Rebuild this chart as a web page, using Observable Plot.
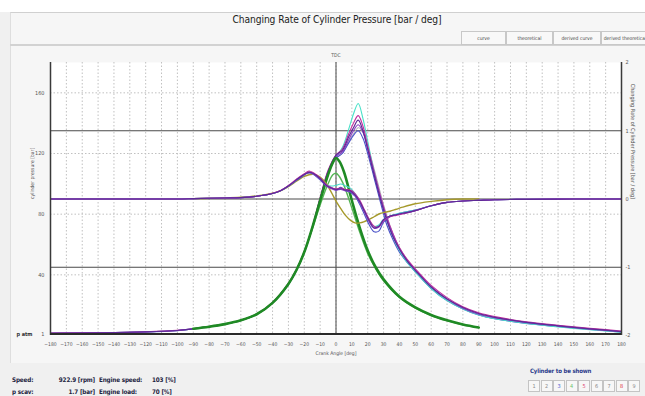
<!DOCTYPE html>
<html><head><meta charset="utf-8">
<script src="https://cdn.jsdelivr.net/npm/d3@7"></script>
<script src="https://cdn.jsdelivr.net/npm/@observablehq/plot@0.6"></script>
<style>
body{margin:0;width:645px;height:396px;overflow:hidden;background:#f0f0f0;position:relative;font-family:"Liberation Sans Narrow","DejaVu Sans Condensed","Liberation Sans",sans-serif;}
.abs{position:absolute;}
#topstrip{left:0;top:0;width:645px;height:12px;background:#fff;}
#panel{left:10px;top:12px;width:635px;height:350px;background:#f6f6f6;border-top:1px solid #d0d0d0;border-left:1px solid #dedede;}
#title{left:137px;top:14px;width:400px;text-align:center;font-size:10.2px;color:#222;white-space:nowrap;letter-spacing:-0.1px;}
.tab{top:31px;height:12px;border:1px solid #c8c8c8;background:#f8f8f8;font-size:5px;color:#444;text-align:center;line-height:12px;white-space:nowrap;overflow:hidden;}
#band{left:10px;top:44px;width:635px;height:2px;background:#d2d2d2;}
#chart{left:0;top:0;}
.st{font-size:6.3px;font-weight:bold;color:#1c2340;white-space:nowrap;letter-spacing:-0.15px;}
.box{top:380px;width:10px;height:10px;border:1px solid #c4c4c4;background:#f7f7f7;font-size:5.5px;text-align:center;line-height:10px;}
</style></head>
<body>
<div class="abs" id="topstrip"></div>
<div class="abs" id="panel"></div>
<div class="abs" id="title">Changing Rate of Cylinder Pressure [bar / deg]</div>
<div class="abs" id="band"></div>
<div class="abs" id="chart"></div>
<div id="extras"></div>
<script>
// ---- data ----
const tabs = ["curve", "theoretical", "derived curve", "derived theoretical"];
const xTicks = [-180,-170,-160,-150,-140,-130,-120,-110,-100,-90,-80,-70,-60,-50,-40,-30,-20,-10,0,10,20,30,40,50,60,70,80,90,100,110,120,130,140,150,160,170,180];
const leftTicks = [1, 40, 80, 120, 160];
const rightTicks = [-2, -1, 0, 1, 2];

// cylinder pressure [bar] (measured, per cylinder)
const pAngle = [-180,-150,-120,-100,-90,-80,-70,-60,-50,-40,-30,-25,-20,-15,-10,-5,0,4,8,11,14,17,20,24,28,32,36,40,45,50,60,70,80,90,100,120,140,160,180];
const pCyl1 = [1.5,1.8,2.4,3.3,4.4,5.8,7.5,10,14,21.5,34,43,55,71,90,108,119,122,131,137,142,135,123,106,90,76,65,57,49,43,32,24,18.5,14.5,12,8.7,6.4,4.4,2.6];
const pCyl2 = [1.6,1.9,2.5,3.4,4.5,5.9,7.6,10.1,14.2,21.8,34.5,43.5,55.5,71.5,91,109,119,123,133,140,145,138,125,108,92,78,67,58,50,44,33,25,19,15,12.5,9.1,6.8,4.8,3];
const pCyl3 = [1.4,1.7,2.3,3.2,4.3,5.7,7.4,9.9,13.8,21.3,33.5,42.5,54.5,70.5,89,107,117,120,127,132,135,130,120,104,88,73,63,55,48,42,31,23,17.5,13.5,11,8,5.9,4,2.2];
const pCyl4 = [1.5,1.8,2.4,3.3,4.4,5.8,7.5,10,14,21.5,34,43,55,71,90,108,118,124,136,146,153,143,128,108,91,76,65,56,48,42,31,23,17.5,13.5,11,8,5.7,3.8,2.1];
const pCyl5 = [1.5,1.8,2.4,3.3,4.4,5.8,7.5,10,14,21.5,34,43,55,71,90,108,118,121,129,135,139,134,123,107,91,77,66,57,49,43,32,24,18,14,11.7,8.5,6.2,4.2,2.5];
const pCyl6 = [1.5,1.8,2.4,3.3,4.4,5.8,7.5,10,14,21.5,34,43,55,71,90,108,117,120,128,133,137,134,125,110,94,79,67,58,50,44,32,24,18.5,14.5,12,8.7,6.4,4.4,2.6];

// theoretical pressure [bar]
const tAngle = [-90,-80,-70,-60,-50,-40,-30,-25,-20,-15,-10,-5,-2,0,2,5,10,15,20,25,30,40,50,60,70,80,90];
const tPress = [4.5,5.8,7.5,10,14,21.5,34,43,55,71,89,106,114,117,115,108,89,71,56,45,37,25.5,18.5,13.5,10,7.3,5.3];
const tPress2 = [4.5,5.8,7.5,10,14,21.5,34,43,55,70,86,100,106,107,105,99,84,68,54,44,36,25,18,13.2,9.8,7.1,5.2];

// derived curve [bar/deg] (measured, per cylinder)
const dAngle = [-180,-140,-100,-90,-80,-70,-60,-50,-40,-35,-30,-25,-20,-17,-14,-10,-6,-3,0,3,6,9,12,15,18,21,24,27,30,34,38,42,50,60,70,80,90,100,120,150,180];
const dCyl1 = [0,0,0,0.005,0.01,0.015,0.02,0.04,0.08,0.12,0.19,0.28,0.36,0.39,0.37,0.3,0.2,0.16,0.14,0.15,0.13,0.12,0.06,-0.04,-0.18,-0.32,-0.42,-0.4,-0.3,-0.25,-0.23,-0.21,-0.17,-0.1,-0.05,-0.03,-0.02,-0.01,-0.005,0,0];
const dCyl2 = [0,0,0,0.005,0.01,0.015,0.02,0.04,0.085,0.125,0.2,0.29,0.37,0.41,0.38,0.31,0.21,0.17,0.15,0.16,0.14,0.13,0.08,-0.02,-0.16,-0.3,-0.4,-0.41,-0.32,-0.26,-0.24,-0.22,-0.17,-0.1,-0.05,-0.03,-0.02,-0.01,-0.005,0,0];
const dCyl3 = [0,0,0,0.005,0.01,0.015,0.02,0.04,0.08,0.12,0.19,0.27,0.35,0.4,0.36,0.28,0.19,0.17,0.13,0.17,0.12,0.1,0.04,-0.08,-0.23,-0.38,-0.48,-0.47,-0.34,-0.26,-0.23,-0.2,-0.16,-0.1,-0.05,-0.03,-0.02,-0.01,-0.005,0,0];
const dCyl4 = [0,0,0,0.005,0.01,0.015,0.02,0.04,0.08,0.12,0.19,0.28,0.36,0.38,0.36,0.3,0.21,0.19,0.2,0.22,0.19,0.16,0.08,-0.03,-0.17,-0.31,-0.4,-0.38,-0.3,-0.25,-0.22,-0.2,-0.16,-0.1,-0.05,-0.03,-0.02,-0.01,-0.005,0,0];
const dCyl5 = [0,0,0,0.005,0.01,0.015,0.02,0.04,0.08,0.12,0.19,0.28,0.36,0.38,0.36,0.29,0.19,0.15,0.13,0.14,0.12,0.11,0.05,-0.05,-0.2,-0.34,-0.43,-0.41,-0.31,-0.25,-0.23,-0.21,-0.17,-0.1,-0.05,-0.03,-0.02,-0.01,-0.005,0,0];

// derived theoretical [bar/deg]
const dtAngle = [-90,-80,-70,-60,-50,-40,-35,-30,-25,-20,-17,-14,-10,-6,-3,0,3,6,9,12,15,18,21,24,27,30,34,38,42,50,60,70,80,90];
const dtRate = [0.005,0.01,0.015,0.025,0.045,0.085,0.12,0.18,0.26,0.33,0.355,0.36,0.32,0.22,0.1,-0.03,-0.14,-0.24,-0.31,-0.35,-0.35,-0.33,-0.3,-0.26,-0.22,-0.2,-0.18,-0.15,-0.12,-0.07,-0.035,-0.01,0,0];

const cylNumbers = ["1","2","3","4","5","6","7","8","9"];
const cylNumColors = ["#8a8a8a","#8a8a8a","#3b4fd0","#6cc46c","#e0406e","#8a8a8a","#8a8a8a","#e0303c","#8a8a8a"];
const stats = [["Speed:", "922.9 [rpm]", "Engine speed:", "103 [%]"], ["p scav:", "1.7 [bar]", "Engine load:", "70 [%]"]];

// ---- build ----
const zip = (xs, ys) => xs.map((a, i) => ({a, v: ys[i]}));
const toBar = r => 90 + 45 * r; // right axis (bar/deg) -> left axis (bar)

const pSeries = [
  [pCyl6, "#a9a9b4", 1],
  [pCyl3, "#4a52c8", 1.1],
  [pCyl4, "#48e0c8", 1.1],
  [pCyl2, "#c22c9e", 1.1],
  [pCyl5, "#8b3fc4", 1.1],
  [pCyl1, "#5e2a96", 1.2]
];
const dSeries = [
  [dCyl3, "#4a52c8"],
  [dCyl4, "#48d8c8"],
  [dCyl2, "#c22c9e"],
  [dCyl5, "#8b3fc4"],
  [dCyl1, "#5e2a96"]
];
const fnt = "'Liberation Sans Narrow','DejaVu Sans Condensed','Liberation Sans',sans-serif";

const chart = Plot.plot({
  width: 645, height: 396,
  marginLeft: 50, marginRight: 24, marginTop: 62, marginBottom: 61,
  style: {background: "transparent", fontFamily: fnt, fontSize: "5.5px", color: "#555"},
  x: {domain: [-180, 180]},
  y: {domain: [0, 180]},
  marks: [
    Plot.frame({fill: "white", stroke: null}),
    Plot.gridX(xTicks, {stroke: "#c0c0c0", strokeOpacity: 1, strokeDasharray: "1.5,2"}),
    Plot.gridY([40, 80, 120, 160], {stroke: "#c0c0c0", strokeOpacity: 1, strokeDasharray: "1.5,2"}),
    Plot.ruleY(rightTicks.filter(d => Math.abs(d) === 1 || d === 0).map(toBar), {stroke: "#4a4a4a", strokeWidth: 1}),
    Plot.ruleX([0], {stroke: "#4a4a4a", strokeWidth: 1}),
    ...pSeries.map(([vals, c, w]) => Plot.line(zip(pAngle, vals), {x: "a", y: "v", stroke: c, strokeWidth: w, curve: "catmull-rom"})),
    Plot.line(zip(tAngle, tPress2), {x: "a", y: "v", stroke: "#55b455", strokeWidth: 1.4, curve: "catmull-rom"}),
    Plot.line(zip(tAngle, tPress), {x: "a", y: "v", stroke: "#1f8a24", strokeWidth: 2.6, curve: "catmull-rom"}),
    Plot.line(zip(dtAngle, dtRate), {x: "a", y: d => toBar(d.v), stroke: "#a69a2c", strokeWidth: 1.4, curve: "catmull-rom"}),
    ...dSeries.map(([vals, c]) => Plot.line(zip(dAngle, vals), {x: "a", y: d => toBar(d.v), stroke: c, strokeWidth: 1.1, curve: "catmull-rom"})),
    Plot.ruleX([-180, 180], {stroke: "#3a3a3a", strokeWidth: 1.5}),
    Plot.ruleY([1], {stroke: "#2a2a2a", strokeWidth: 2}),
    Plot.axisX({ticks: xTicks, tickSize: 0, tickPadding: 7, label: null, fontSize: "5px"}),
    Plot.axisY({ticks: leftTicks, tickSize: 0, tickPadding: 6, label: null, fontSize: "5.5px"}),
    Plot.axisY({anchor: "right", ticks: rightTicks.map(toBar), tickFormat: v => String((v - 90) / 45), tickSize: 0, tickPadding: 4, label: null, fontSize: "5.5px"}),
    Plot.text([1], {x: () => -180, y: d => d, text: () => "p atm", dx: -18, textAnchor: "end", fontSize: 5.5, fill: "#333", fontWeight: "bold"}),
    Plot.text(["cylinder pressure [bar]"], {frameAnchor: "left", dx: -18, rotate: -90, fontSize: 5, fill: "#555"}),
    Plot.text(["Changing Rate of Cylinder Pressure [bar / deg]"], {frameAnchor: "right", dx: 11, rotate: 90, fontSize: 5.5, fill: "#555"}),
    Plot.text(["Crank Angle [deg]"], {frameAnchor: "bottom", dy: 19, fontSize: 5, fill: "#555"}),
    Plot.text(["TDC"], {x: () => 0, frameAnchor: "top", dy: -9, fontSize: 5, fill: "#555"})
  ]
});
document.getElementById("chart").appendChild(chart);

// ---- HTML extras ----
const ex = document.getElementById("extras");
const add = (cls, txt, css) => { const d = document.createElement("div"); d.className = "abs " + cls; d.textContent = txt; Object.assign(d.style, css); ex.appendChild(d); return d; };
const tabLeft = [461, 506, 553, 601], tabW = [43, 45, 46, 46];
tabs.forEach((t, i) => add("tab", t, {left: tabLeft[i] + "px", width: tabW[i] + "px"}));
stats.forEach((row, r) => {
  const top = (376 + r * 12) + "px";
  add("st", row[0], {left: "12px", top});
  add("st", row[1], {left: "40px", width: "55px", textAlign: "right", top});
  add("st", row[2], {left: "99px", top});
  add("st", row[3], {left: "152px", top});
});
add("st", "Cylinder to be shown", {left: "530px", top: "367px", fontSize: "6px", color: "#2a3a8a"});
cylNumbers.forEach((n, i) => add("box", n, {left: (528 + i * 12.5) + "px", color: cylNumColors[i]}));
</script>
</body></html>
